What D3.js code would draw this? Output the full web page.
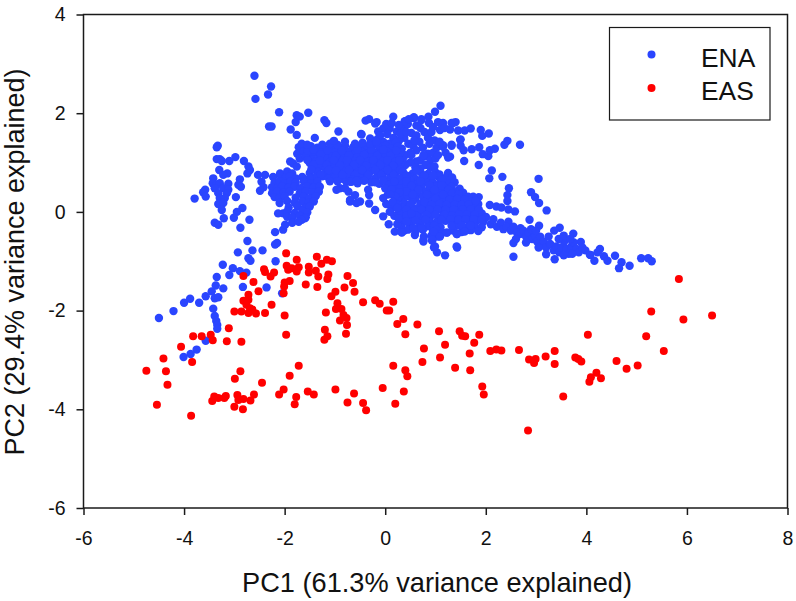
<!DOCTYPE html>
<html><head><meta charset="utf-8">
<script src="https://cdn.jsdelivr.net/npm/d3@7/dist/d3.min.js"></script>
<style>html,body{margin:0;padding:0;background:#fff}svg{display:block}text{font-family:"Liberation Sans",Arial,sans-serif;fill:#111}</style>
</head><body><svg id="c" width="796" height="601"></svg>
<script>
const xTicks=[-6,-4,-2,0,2,4,6,8];
const yTicks=[-6,-4,-2,0,2,4];
const seriesNames=["ENA","EAS"];
const xTitle="PC1 (61.3% variance explained)";
const yTitle="PC2 (29.4% variance explained)";
const easPoints=[[-1.97,-.84],[-1.76,-.97],[-1.36,-.91],[-1.16,-.97],[-1.06,-1],[-1.27,-1.05],[-1.52,-1.11],[-1.96,-1.09],[-1.86,-1.14],[-1.72,-1.12],[-1.76,-1.21],[-1.93,-1.17],[-2.41,-1.16],[-2.39,-1.22],[-2.21,-1.23],[-2.28,-1.31],[-2.82,-1.3],[-1.52,-1.23],[-1.38,-1.19],[-1.33,-1.31],[-1.13,-1.27],[-1.15,-1.36],[-.75,-1.3],[-.64,-1.44],[-.81,-1.53],[-.61,-1.62],[-1.9,-1.4],[-2,-1.43],[-2.01,-1.51],[-1.58,-1.47],[-1.35,-1.52],[-2.62,-1.42],[-2.52,-1.61],[-2.72,-1.68],[-2.02,-1.65],[-.99,-1.62],[-1.07,-1.71],[-.44,-1.83],[-.2,-1.79],[-.11,-1.86],[.16,-1.82],[-.95,-1.85],[-2.72,-1.78],[-2.82,-1.8],[-2.76,-1.88],[-2.26,-1.88],[-2.69,-1.95],[-2.64,-1.98],[-3,-2.02],[-2.86,-2.02],[-2.72,-2.05],[-2.57,-2.06],[-2.39,-2.05],[-2,-2.1],[-1.18,-2.04],[-.98,-1.97],[-.87,-1.97],[-.83,-2.09],[-.77,-2.15],[-.9,-2.2],[-.76,-2.29],[.03,-2],[.08,-2],[.36,-2.17],[.24,-2.27],[.4,-2.48],[-3.11,-2.36],[-3.82,-2.52],[-3.65,-2.52],[-3.47,-2.49],[-3.43,-2.6],[-3.15,-2.62],[-2.86,-2.63],[-1.97,-2.49],[-1.2,-2.39],[-1.15,-2.52],[-1.21,-2.59],[-.78,-2.47],[-4.06,-2.73],[-4.41,-2.97],[-3.84,-3.04],[-4.75,-3.22],[-4.36,-3.23],[-4.33,-3.5],[-4.54,-3.91],[-3.86,-4.13],[-2.88,-3.23],[-2.99,-3.38],[-2.45,-3.46],[-1.72,-3.12],[-1.9,-3.32],[.16,-3.12],[.4,-3.21],[.44,-3.33],[-.05,-3.57],[.37,-3.64],[.2,-3.89],[-.99,-3.6],[-.62,-3.68],[-.75,-3.86],[-.44,-3.87],[-.38,-4.02],[-1.54,-3.64],[-1.42,-3.7],[-2.02,-3.6],[-2.11,-3.7],[-1.77,-3.75],[-1.8,-3.9],[-2.61,-3.7],[-2.68,-3.82],[-2.82,-3.79],[-2.94,-3.71],[-2.92,-3.81],[-3,-3.95],[-2.83,-4],[-3.17,-3.73],[-3.2,-3.77],[-3.4,-3.74],[-3.32,-3.77],[-3.44,-3.83],[5.84,-1.36],[5.29,-2.02],[5.93,-2.18],[6.5,-2.1],[5.19,-2.52],[5.54,-2.82],[4.03,-2.49],[4.6,-3.02],[4.8,-3.18],[5.02,-3.11],[4.2,-3.26],[4.29,-3.37],[4.09,-3.35],[4.06,-3.44],[3.54,-3.74],[2.84,-4.43],[3.78,-2.95],[3.84,-2.98],[3.9,-3.03],[3.37,-2.82],[3.37,-3.08],[3.19,-2.93],[2.86,-2.99],[2.99,-2.98],[2.96,-3.06],[2.66,-2.8],[2.31,-2.81],[2.21,-2.79],[2.09,-2.82],[1.96,-3.7],[1.93,-3.54],[1.69,-3.21],[1.39,-3.16],[1.09,-2.95],[.74,-3.04],[.77,-2.77],[1.19,-2.69],[1.68,-2.87],[1.77,-2.65],[1.87,-2.49],[1.59,-2.52],[1.53,-2.51],[1.48,-2.42],[1.07,-2.42],[.64,-2.28]];
const enaSparse=[[-2.74,-.59],[-2.15,-.63],[-2.19,-.66],[-2.93,-.82],[-2.64,-.78],[-2.44,-.78],[-2.72,-.94],[-2.68,-.99],[-2.18,-1],[-3.23,-1.07],[-3.03,-1.14],[-3.1,-1.28],[-2.89,-1.2],[-2.76,-1.23],[-3.35,-1.32],[-3.37,-1.49],[-3.22,-1.55],[-3.45,-1.61],[-2.83,-1.52],[-2.36,-1.53],[-2.05,-1.65],[-3.57,-1.71],[-3.39,-1.75],[-3.32,-1.73],[-3.88,-1.76],[-4,-1.84],[-3.7,-1.84],[-4.21,-2.01],[-4.5,-2.15],[-3.42,-1.96],[-3.39,-2.11],[-3.36,-2.21],[-3.34,-2.29],[-3.34,-2.37],[-3.57,-2.61],[-3.75,-2.79],[-3.87,-2.88],[-4.01,-2.94],[-2.6,2.76],[-2.27,2.54],[-2.33,2.38],[-2.58,2.29],[-2.11,2.02],[-1.76,1.96],[-1.7,1.93],[-1.53,2.01],[-1.78,1.82],[-1.21,1.86],[-1.17,1.8],[-2.31,1.73],[-2.26,1.73],[-1.88,1.67],[-1.76,1.56],[-1.4,1.5],[-.93,1.63],[-.48,1.58],[-.39,1.85],[-.32,1.88],[-.17,1.82],[-3.33,1.34],[-3.35,1.31],[-2.98,1.11],[-3.35,1.07],[-3.29,1.07],[-3.25,1.03],[-3.1,1.03],[-2.81,1.03],[-2.72,.92],[-2.69,.85],[-2.74,.78],[-3.3,.85],[-3.14,.78],[-3.22,.75],[-3.42,.68],[-3.43,.58],[-2.89,.66],[-2.92,.55],[-2.87,.51],[-3.35,.55],[-3.29,.58],[-3.12,.57],[-3.39,.48],[-3.22,.48],[-3.12,.45],[-3.32,.38],[-3.15,.38],[-3.58,.45],[-3.62,.4],[-3.57,.31],[-3.79,.27],[-2.97,.3],[-3.29,.28],[-3.19,.28],[-3.32,.16],[-3.22,.18],[-3.25,.04],[-2.84,.08],[-2.95,0],[-3.01,-.12],[-3.21,-.13],[-3.39,-.22],[-3.32,-.26],[-2.7,-.16],[-2.88,-.32],[-2.19,-.41],[-2.03,-.36],[-1.99,-.26],[-2.53,.75],[-2.39,.75],[-2.23,.71],[-2.09,.75],[-2.46,.61],[-2.42,.5],[-2.49,.43],[1.1,2.15],[.99,2.03],[.86,1.93],[.57,1.92],[.72,1.88],[.39,1.83],[.87,1.8],[1.05,1.82],[1.15,1.8],[1.32,1.8],[1.4,1.82],[1.29,1.67],[1.09,1.66],[1.45,1.65],[1.58,1.65],[1.7,1.69],[1.9,1.66],[2.06,1.59],[1.93,1.54],[1.5,1.47],[1.32,1.34],[1.5,1.34],[1.56,1.25],[1.72,1.27],[1.87,1.31],[1.94,1.17],[2.05,1.13],[2.08,1.25],[2.18,1.28],[2.37,1.36],[2.43,1.44],[2.68,1.36],[1.57,1.03],[1.86,.95],[2.12,.84],[2.07,.68],[2.33,.71],[3.05,.67],[2.46,.48],[2.43,.34],[2.43,.22],[2.9,.4],[2.98,.3],[3.06,.18],[3.21,.03],[2.08,.14],[2.21,.11],[2.31,.09],[2.45,.05],[2.58,.01],[1.86,.3],[1.75,.31],[2.87,-.16],[2.45,-.2],[3.74,-.44],[3.47,-.32],[3.36,-.38],[3.06,-.28],[2.69,-.33],[3.89,-.61],[4.27,-.75],[4.08,-.87],[4.35,-.9],[4.42,-.99],[4.57,-.89],[4.7,-1.02],[4.65,-1.14],[4.86,-1.09],[5.09,-.94],[5.23,-.94],[5.3,-1],[4.16,-.99],[2.55,-.63],[2.55,-.91],[1.43,-.72],[1.19,-.88],[1.03,-.82],[.97,-.72],[1.43,-.45],[1.23,-.42],[.76,-.6],[.77,-.5],[.59,-.47],[.93,-.58],[1.05,-.5],[1.07,-.4],[.95,-.4],[.33,-.42],[.56,-.33],[.72,-.31]];
const enaLowerRight=[[1.95,-.2],[2,-.1],[2.1,-.25],[2.15,-.15],[2.22,-.3],[2.3,-.22],[2.35,-.35],[2.42,-.3],[2.5,-.38],[2.55,-.3],[2.62,-.42],[2.68,-.45],[2.75,-.38],[2.8,-.5],[2.85,-.42],[2.92,-.55],[2.98,-.48],[3.02,-.6],[3.08,-.5],[3.1,-.68],[3.15,-.6],[3.2,-.72],[3.28,-.65],[3.35,-.78],[3.4,-.7],[3.46,-.82],[3.5,-.72],[3.56,-.6],[3.6,-.75],[3.65,-.85],[3.7,-.7],[3.75,-.62],[3.8,-.75],[3.85,-.82],[3.92,-.72],[3.98,-.78],[2.9,-.35],[3,-.38],[3.25,-.5],[3.45,-.55],[3.55,-.48],[3.68,-.55],[2.6,-.55],[2.8,-.62],[3.05,-.72],[3.37,-.96],[3.2,-.86],[3.55,-.88],[3.72,-.85],[4.07,-.87],[4.22,-.82]];
const enaUpperCentre=[[.34,1.7],[.45,1.78],[.52,1.6],[.62,1.55],[.7,1.7],[.78,1.62],[.85,1.5],[.92,1.62],[.98,1.45],[.38,1.5],[.46,1.38],[.55,1.35],[.62,1.25],[.5,1.2],[.4,1.15],[.33,1.28],[.75,1.3],[.85,1.18],[.95,1.2],[1.02,1.3],[.78,1.12],[.7,1.05],[.9,1.05],[1,1.08],[1.05,1.15],[1.15,1.35],[1.2,1.2],[1.25,1.1],[.62,1.02],[.5,1],[.4,.95],[.35,1.05],[.6,.9],[.8,.95],[.7,.88],[.9,.9],[.98,.92],[-.47,1.57],[.16,1.93],[-.2,1.79],[-.04,1.69],[-.14,1.63],[.09,1.69],[.23,1.63],[.39,1.84],[.57,1.9],[.72,1.86],[1.35,1.8],[1.15,1.32],[1.32,1.36],[1.49,1.46],[1.29,1.12],[.76,1.15],[.52,1.15],[-.04,1.42],[.08,1.38],[-.3,1.49],[-.63,1.32],[.16,1.5],[.28,1.45],[-.15,1.48],[.02,1.78],[.13,1.8],[.27,1.76],[.47,1.88],[.62,1.75],[.95,1.72],[1.18,1.7],[.3,1.58],[.42,1.62],[.68,1.42],[.88,1.38],[1.08,1.42],[.58,1.45],[.2,1.4],[-.1,1.55],[.04,1.58]];
const enaBand=[[-1.72,1.31],[-1.6,1.28],[-1.48,1.33],[-1.35,1.3],[-1.2,1.27],[-1.05,1.32],[-.92,1.29],[-.8,1.34],[-.65,1.28],[-.5,1.33],[-.38,1.3],[-.25,1.36],[-.12,1.31],[0,1.34],[.12,1.29],[.25,1.33],[-1.75,1.18],[-1.62,1.22],[-1.5,1.17],[-1.38,1.2],[-1.25,1.23],[-1.12,1.18],[-1,1.21],[-.88,1.17],[-.75,1.22],[-.6,1.19],[-.48,1.23],[-.35,1.18],[-.22,1.21],[-.1,1.17],[.05,1.22],[.18,1.19],[.3,1.21],[-1.7,1.08],[-1.58,1.12],[-1.45,1.07],[-1.3,1.11],[-1.18,1.09],[-1.05,1.13],[-.92,1.08],[-.8,1.11],[-.68,1.07],[-.55,1.12],[-.42,1.09],[-.3,1.13],[-.15,1.08],[0,1.11],[.12,1.07],[.25,1.12],[-1.5,.99],[-1.38,1.02],[-1.25,.97],[-1.1,1.01],[-.98,.98],[-.85,1.03],[-.72,.99],[-.6,1.02],[-.48,.97],[-.35,1.01],[-.2,.98],[-.08,1.03],[.05,.99],[.18,1.02],[.3,.97],[-1.42,.89],[-1.3,.92],[-1.18,.88],[-1.05,.91],[-.92,.87],[-.78,.92],[-.65,.89],[-.52,.91],[-.4,.88],[-.28,.92],[-.12,.87],[0,.91],[.12,.89],[.25,.92],[-1.5,.79],[-1.35,.82],[-1.2,.78],[-1.08,.81],[-.95,.77],[-.82,.82],[-.7,.79],[-.55,.81],[-.42,.78],[-.3,.82],[-.15,.77],[-.02,.81],[.1,.79],[.22,.82],[-1.4,.69],[-1.25,.72],[-1.12,.68],[-1,.71],[-.85,.67],[-.72,.72],[-.5,.69],[-.35,.71],[-.2,.68],[-.05,.72],[.1,.69],[.22,.71],[-.78,.62],[-.55,.58],[-.28,.6],[-.12,.57],[.02,.61],[.15,.58],[.28,.62]];
const enaBandExtra=[[-1.66,1.38],[-1.54,1.24],[-1.42,1.26],[-1.28,1.17],[-1.15,1.25],[-.98,1.14],[-.86,1.24],[-.72,1.15],[-.55,1.26],[-.42,1.16],[-.28,1.26],[-.16,1.14],[-.04,1.26],[.1,1.14],[.22,1.25],[-1.55,1.05],[-1.42,.96],[-1.3,1.04],[-1.16,.95],[-1.02,1.05],[-.9,.94],[-.76,1.05],[-.62,.95],[-.5,1.05],[-.38,.94],[-.24,1.05],[-.1,.95],[.04,1.05],[.16,.94],[.28,1.05],[-1.47,.86],[-1.28,.76],[-1.12,.85],[-.98,.84],[-.85,.75],[-.72,.85],[-.6,.75],[-.46,.85],[-.34,.75],[-.2,.85],[-.08,.75],[.05,.85],[.17,.75],[.3,.85],[-1.1,.62],[-.95,.62],[-.65,.65],[-.42,.63],[-.2,.6],[-.04,.64],[.08,.55],[.22,.55],[-.6,1.38],[-.45,1.4],[-.3,1.38],[-.18,1.42],[-1.55,1.36],[-1.25,1.36],[-1.1,1.38],[-.95,1.36],[-.8,1.42],[-1.02,1.44]];
const enaMidMass=[[.35,.82],[.55,.78],[.7,.81],[.85,.77],[1,.8],[1.08,.76],[1.25,.79],[.3,.68],[.45,.72],[.6,.67],[.75,.71],[.9,.68],[1.05,.72],[1.2,.69],[1.33,.7],[.35,.58],[.5,.62],[.65,.57],[.8,.61],[.95,.59],[1.1,.62],[1.25,.58],[1.38,.6],[.3,.48],[.42,.52],[.58,.47],[.72,.51],[.88,.48],[1.02,.52],[1.18,.49],[1.32,.51],[1.48,.47],[.36,.38],[.5,.42],[.65,.37],[.8,.41],[.95,.39],[1.1,.42],[1.25,.38],[1.4,.41],[1.55,.39],[.32,.28],[.45,.32],[.6,.27],[.75,.31],[.9,.29],[1.05,.32],[1.2,.28],[1.35,.31],[1.5,.29],[1.65,.31],[.38,.18],[.55,.22],[.7,.17],[.85,.21],[1,.19],[1.15,.22],[1.3,.18],[1.45,.21],[1.6,.19],[1.72,.2],[1.85,.16],[.34,.08],[.48,.12],[.62,.07],[.78,.11],[.95,.09],[1.1,.12],[1.28,.08],[1.42,.11],[1.58,.09],[1.72,.1],[.35,-.02],[.5,.02],[.65,-.03],[.8,.01],[.98,-.01],[1.15,.02],[1.32,-.02],[1.5,.01],[1.65,-.01],[1.8,.02],[1.92,-.03],[.38,-.12],[.55,-.08],[.72,-.13],[.9,-.09],[1.08,-.11],[1.25,-.08],[1.4,-.12],[1.55,-.09],[1.7,-.11],[1.85,-.08],[2,-.12],[.34,-.22],[.48,-.18],[.7,-.23],[.88,-.19],[1.02,-.21],[1.2,-.18],[1.38,-.22],[1.52,-.19],[1.68,-.21],[1.82,-.18],[.32,-.31],[.5,-.28],[.66,-.32],[.85,-.29],[1.1,-.31],[1.42,-.28],[1.6,-.32],[1.78,-.29],[1.92,-.31],[.38,-.38],[.6,-.4],[1.35,-.38],[1.52,-.41],[1.7,-.37],[1.85,-.39]];
const enaMidExtra=[[.42,.74],[.62,.84],[.78,.74],[.95,.74],[1.13,.65],[.42,.62],[.7,.62],[.88,.54],[1.12,.54],[1.26,.45],[.52,.53],[.66,.45],[.98,.45],[1.15,.35],[1.33,.38],[1.46,.36],[.42,.42],[.55,.35],[.83,.35],[1.0,.26],[1.28,.25],[1.43,.26],[1.58,.25],[.5,.16],[.78,.2],[.92,.14],[1.08,.16],[1.22,.14],[1.38,.15],[1.52,.14],[1.66,.15],[1.8,.22],[.42,.04],[.58,.03],[.72,.05],[.88,.05],[1.04,.05],[1.2,.04],[1.36,.05],[1.55,.05],[1.7,.05],[1.86,.05],[.42,-.07],[.62,-.08],[.82,-.06],[1,-.06],[1.18,-.05],[1.33,-.07],[1.47,-.05],[1.62,-.05],[1.78,-.05],[.6,-.17],[.8,-.16],[1.12,-.16],[1.3,-.15],[1.46,-.16],[1.6,-.15],[1.76,-.15],[1.92,-.15],[.97,-.28],[1.32,-.28],[1.52,-.27],[1.7,-.27],[.45,-.36],[.75,-.36],[1.02,-.36],[1.14,-.42],[.92,-.48],[.18,.62],[.16,.45],[.05,.35],[.24,.25],[.14,.08],[.27,-.03],[.24,-.25],[.18,-.08],[.28,.4],[.02,.16],[.24,.15]];
const enaLowerCentre=[[-.7,.61],[-.54,.63],[-.9,.48],[-.73,.41],[-.6,.34],[-.34,.45],[-.32,.34],[-.7,.21],[-.5,.21],[-.32,.17],[-.2,.04],[-.04,-.09],[.07,-.25],[.19,-.4],[.33,-.41],[-.04,.28],[0,.48],[.09,.14],[.09,0],[.26,-.13],[.43,-.2],[.56,-.33],[.72,-.33],[.76,-.57],[.99,-.7],[1.42,-.7],[.94,-.57],[1.09,-.5],[1.22,-.42],[1.42,-.45],[.96,-.4],[1.58,-.4],[.52,-.03],[.12,.45],[.2,.32],[.15,.2],[.24,.08],[.1,.36],[-.97,.45],[-.8,.48],[-.67,.61],[-.57,.63],[-.7,.24],[-.57,.18]];
const enaLowerLeft=[[-2.09,.78],[-1.89,1.02],[-1.83,.98],[-1.76,.92],[-1.95,.82],[-1.85,.78],[-1.98,.7],[-1.9,.72],[-1.78,.68],[-1.65,.71],[-1.5,.69],[-2.2,.6],[-2.1,.62],[-2,.58],[-1.88,.61],[-1.78,.59],[-1.62,.62],[-1.48,.58],[-1.35,.61],[-2.25,.5],[-2.15,.48],[-2.05,.52],[-1.92,.49],[-1.8,.51],[-1.68,.48],[-1.55,.52],[-1.42,.49],[-1.3,.51],[-2.25,.38],[-2.15,.42],[-2.02,.39],[-1.9,.41],[-1.7,.38],[-1.58,.42],[-1.45,.39],[-1.32,.41],[-2.2,.3],[-2.1,.28],[-2,.32],[-1.78,.29],[-1.62,.31],[-1.5,.28],[-1.38,.32],[-2.1,.18],[-1.95,.22],[-1.8,.19],[-1.65,.21],[-1.52,.18],[-1.42,.21],[-1.92,.09],[-1.75,.12],[-1.6,.08],[-1.5,.11],[-2.13,-.03],[-2.03,-.03],[-1.95,.01],[-1.8,-.02],[-1.65,.02],[-1.55,-.01],[-1.95,-.1],[-1.85,-.12],[-1.7,-.08],[-1.58,-.11],[-1.6,-.13],[-1.66,-.16],[-1.85,-.22],[-1.72,-.2]];
const enaPoints=[...enaSparse,...enaLowerRight,...enaUpperCentre,...enaBand,...enaBandExtra,...enaMidMass,...enaMidExtra,...enaLowerCentre,...enaLowerLeft];

const colors=["#2a45ff","#ff0000"];
const svg=d3.select("#c");
const x=d3.scaleLinear().domain([-6,8]).range([83.5,787.5]);
const y=d3.scaleLinear().domain([-6,4]).range([508,14.5]);
const ink="#1a1a1a";

svg.append("g").selectAll("circle").data(enaPoints).join("circle")
  .attr("cx",d=>x(d[0])).attr("cy",d=>y(d[1])).attr("r",4.2).attr("fill",colors[0]);
svg.append("g").selectAll("circle").data(easPoints).join("circle")
  .attr("cx",d=>x(d[0])).attr("cy",d=>y(d[1])).attr("r",4).attr("fill",colors[1]);

svg.append("rect").attr("x",x(-6)).attr("y",y(4)).attr("width",x(8)-x(-6)).attr("height",y(-6)-y(4))
  .attr("fill","none").attr("stroke",ink).attr("stroke-width",1.5);
const gx=svg.append("g").attr("transform",`translate(0,${y(-6)})`)
  .call(d3.axisBottom(x).tickValues(xTicks).tickSize(7).tickPadding(16).tickFormat(d3.format("d")));
const gy=svg.append("g").attr("transform",`translate(${x(-6)},0)`)
  .call(d3.axisLeft(y).tickValues(yTicks).tickSize(7).tickPadding(11).tickFormat(d3.format("d")));
[gx,gy].forEach(g=>{
  g.select(".domain").remove();
  g.selectAll(".tick line").attr("stroke",ink).attr("stroke-width",1.5);
  g.selectAll("text").attr("font-family","'Liberation Sans'").attr("font-size",19.5).attr("fill","#111");
});
svg.selectAll(".tick text").text(function(){return this.textContent.replace("−","-");});

svg.append("text").attr("x",437).attr("y",591.5).attr("text-anchor","middle").attr("font-size",27.2).text(xTitle);
svg.append("text").attr("transform","translate(23.5,262) rotate(-90)").attr("text-anchor","middle").attr("font-size",27).text(yTitle);

svg.append("rect").attr("x",609.5).attr("y",27.5).attr("width",160.5).attr("height",92.5)
  .attr("fill","#fff").attr("stroke",ink).attr("stroke-width",1.2);
const legendRows=[54.6,88];
seriesNames.forEach((name,i)=>{
  svg.append("circle").attr("cx",651.5).attr("cy",legendRows[i]).attr("r",4).attr("fill",colors[i]);
  svg.append("text").attr("x",701).attr("y",legendRows[i]+12).attr("font-size",26.4).text(name);
});
</script></body></html>
